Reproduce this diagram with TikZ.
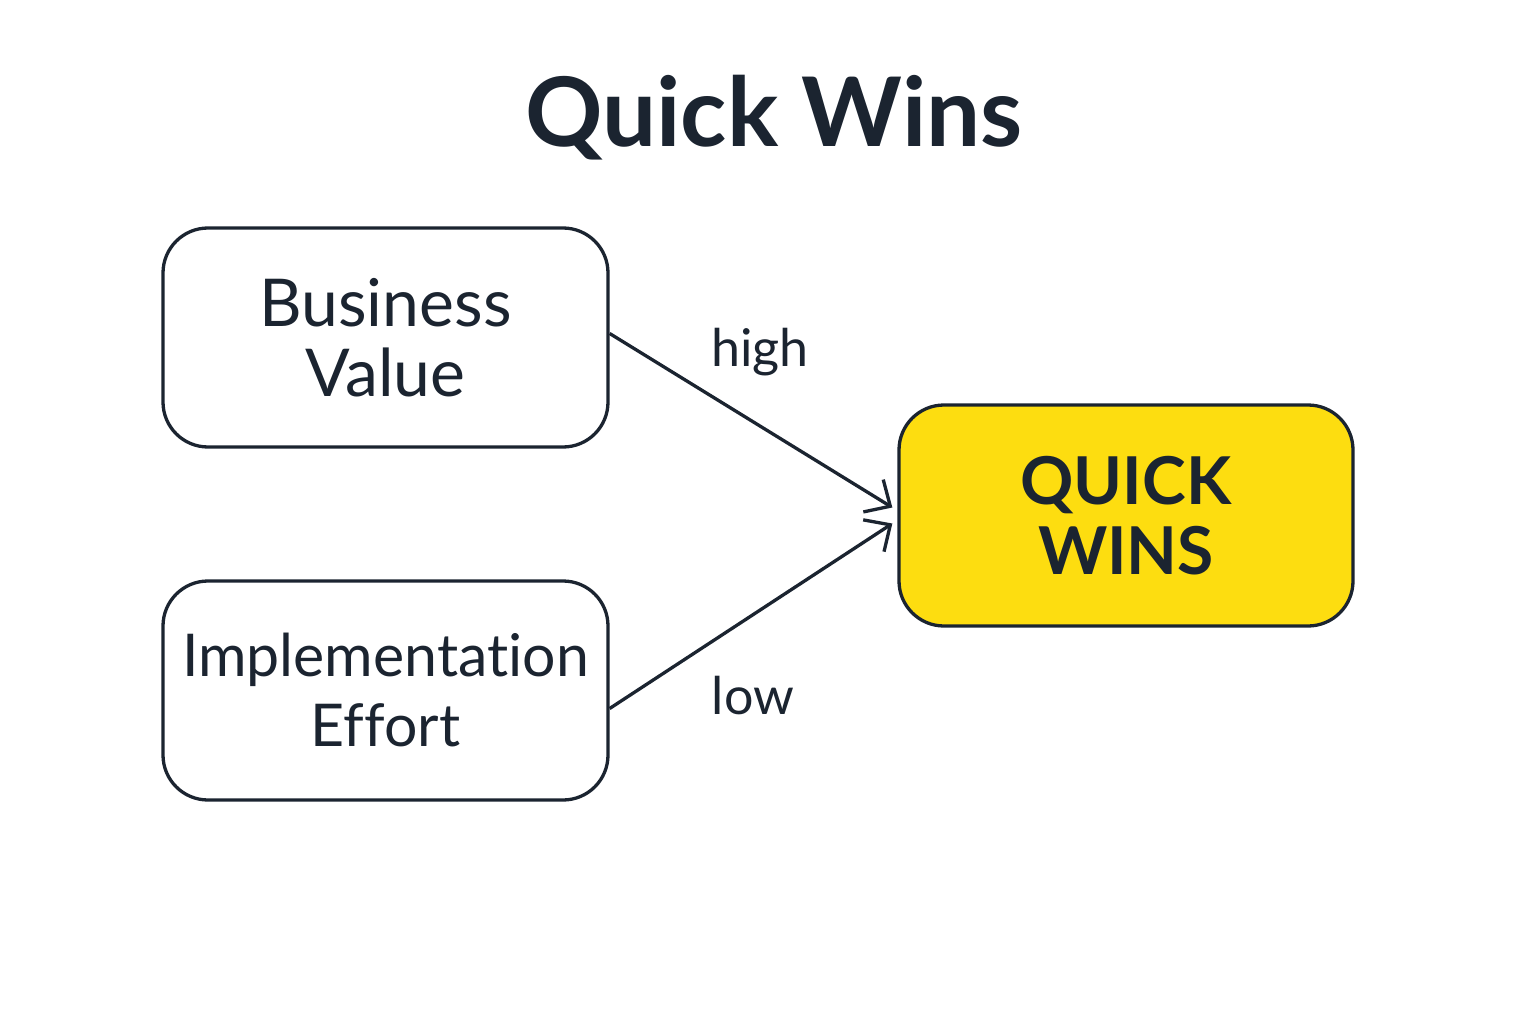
\documentclass[tikz,border=0pt]{standalone}
\usepackage{fontspec}
\setmainfont{Lato}[Ligatures={NoCommon}]
\usetikzlibrary{arrows.meta,calc}
\definecolor{ink}{HTML}{1B2430}
\definecolor{qyel}{HTML}{FDDD10}
\begin{document}
\begin{tikzpicture}[x=1pt,y=-1pt,
  box/.style={draw=ink,line width=3.3pt,rounded corners=45pt,minimum width=445pt,minimum height=219pt,align=center,text=ink,inner sep=0pt},
  conn/.style={draw=ink,line width=3.3pt,-{Straight Barb[length=20pt,width=38pt,line width=3.3pt]}},
  lbl/.style={text=ink,font=\fontsize{52}{60}\selectfont}]
\useasboundingbox (0,0) rectangle (1536,1024);
\fill[white] (0,0) rectangle (1536,1024);
\node[text=ink,font=\fontsize{96}{110}\selectfont\bfseries] (title) at (774,118) {Quick Wins};
\node[box,font=\fontsize{66}{70}\selectfont] (bv) at (385.5,337.5) {Business\\Value};
\node[box,font=\fontsize{59}{70}\selectfont] (ie) at (385.5,690.5) {Implementation\\Effort};
\node[box,fill=qyel,minimum width=454pt,minimum height=221pt,font=\fontsize{66}{70}\selectfont\bfseries] (qw) at (1126,515.5) {QUICK\\WINS};
\coordinate (bvs) at ($(bv.east)+(0,-4)$);
\coordinate (ies) at ($(ie.east)+(0,18)$);
\coordinate (qa) at ($(qw.west)+(-5,-8)$);
\coordinate (qb) at ($(qw.west)+(-5,8)$);
\draw[conn] (bvs) -- (qa);
\draw[conn] (ies) -- (qb);
\node[lbl] (hi) at (760,352) {high};
\node[lbl] (lo) at (753,696) {low};
\end{tikzpicture}
\end{document}
